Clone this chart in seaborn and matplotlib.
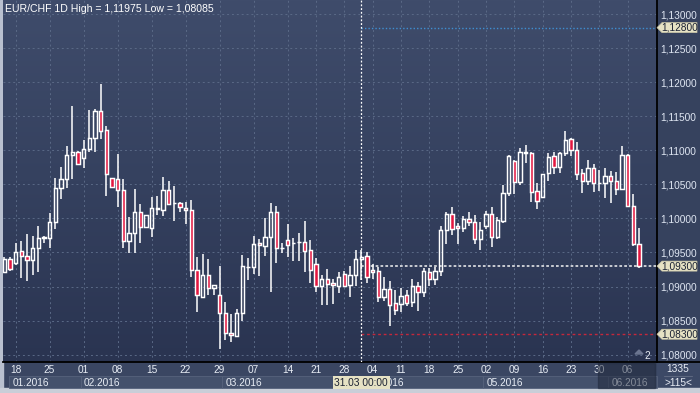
import numpy as np
import pandas as pd
import matplotlib
matplotlib.use("Agg")
import matplotlib.pyplot as plt
import matplotlib.transforms as mtransforms
from matplotlib.patches import Rectangle, Polygon
from matplotlib.colors import LinearSegmentedColormap
import seaborn as sns

# ---------------- data ----------------
sunday_era = pd.date_range("2016-01-15", "2016-03-13")
sunday_era = sunday_era[sunday_era.weekday != 5]          # broker sent Sunday bars until mid-March
weekday_era = pd.bdate_range("2016-03-14", "2016-06-08")
dates = list(sunday_era) + list(weekday_era)

opens = [1.09218, 1.09400, 1.09341, 1.09517, 1.09453, 1.09385, 1.09561, 1.09708, 1.09708, 1.09943,
         1.10442, 1.10574, 1.10926, 1.10975, 1.10882, 1.11014, 1.11176, 1.11576, 1.11298, 1.10589,
         1.10574, 1.10417, 1.09673, 1.09782, 1.10090, 1.09879, 1.09864, 1.10143, 1.10128, 1.10417,
         1.10222, 1.10222, 1.10149, 1.10119, 1.09239, 1.08854, 1.09165, 1.08972, 1.08872, 1.08608,
         1.08314, 1.08279, 1.08608, 1.09282, 1.09291, 1.09639, 1.09600, 1.09727, 1.10090, 1.09570,
         1.09679, 1.09635, 1.09649, 1.09654, 1.09532, 1.09327, 1.09013, 1.09111, 1.09048, 1.09013,
         1.09180, 1.09018, 1.09165, 1.09400, 1.09444, 1.09243, 1.09228, 1.08851, 1.08960, 1.08754,
         1.08744, 1.08872, 1.08769, 1.09004, 1.08916, 1.09209, 1.09107, 1.09233, 1.09826, 1.10060,
         1.09884, 1.09855, 1.09987, 1.09943, 1.09705, 1.09889, 1.10060, 1.09732, 1.09967, 1.10369,
         1.10838, 1.10539, 1.10960, 1.10960, 1.10402, 1.10319, 1.10662, 1.10916, 1.10759, 1.10956,
         1.11166, 1.10999, 1.10662, 1.10554, 1.10736, 1.10515, 1.10515, 1.10623, 1.10549, 1.10427,
         1.10931, 1.10187, 1.09620]
highs = [1.09434, 1.09434, 1.09644, 1.09669, 1.09771, 1.09738, 1.09893, 1.09742, 1.10075, 1.10593,
         1.10750, 1.11063, 1.11650, 1.10990, 1.11151, 1.11591, 1.11606, 1.11975, 1.11356, 1.10593,
         1.10945, 1.10574, 1.10025, 1.10432, 1.10212, 1.10050, 1.10319, 1.10329, 1.10603, 1.10554,
         1.10476, 1.10245, 1.10241, 1.10270, 1.09434, 1.09478, 1.09404, 1.09018, 1.09302, 1.08773,
         1.08597, 1.08666, 1.09463, 1.09415, 1.09742, 1.09702, 1.10006, 1.10222, 1.10182, 1.09644,
         1.09918, 1.09713, 1.09790, 1.09962, 1.09683, 1.09415, 1.09170, 1.09253, 1.09111, 1.09218,
         1.09233, 1.09302, 1.09537, 1.09537, 1.09512, 1.09331, 1.09282, 1.09136, 1.09086, 1.08950,
         1.08974, 1.08950, 1.09111, 1.09071, 1.09268, 1.09268, 1.09282, 1.09889, 1.10094, 1.10163,
         1.09928, 1.10040, 1.10090, 1.10050, 1.09947, 1.10116, 1.10163, 1.10025, 1.10490, 1.10931,
         1.10857, 1.11029, 1.11078, 1.10975, 1.10515, 1.10652, 1.10956, 1.10975, 1.10975, 1.11283,
         1.11180, 1.11126, 1.10721, 1.10857, 1.10799, 1.10711, 1.10736, 1.10696, 1.10686, 1.11063,
         1.10950, 1.10358, 1.09859]
lows = [1.09199, 1.09228, 1.09312, 1.09130, 1.09086, 1.09174, 1.09218, 1.09644, 1.09570, 1.09849,
        1.10285, 1.10451, 1.10574, 1.10784, 1.10744, 1.10975, 1.10970, 1.11170, 1.10333, 1.10451,
        1.10172, 1.09570, 1.09497, 1.09488, 1.09644, 1.09864, 1.09732, 1.10046, 1.10040, 1.10197,
        1.09967, 1.10099, 1.09923, 1.09145, 1.08631, 1.08839, 1.08872, 1.08876, 1.08085, 1.08220,
        1.08186, 1.08264, 1.08499, 1.09096, 1.09180, 1.09159, 1.09453, 1.08925, 1.09341, 1.09497,
        1.09438, 1.09380, 1.09380, 1.09209, 1.09048, 1.08925, 1.08729, 1.08729, 1.08740, 1.08901,
        1.09008, 1.08851, 1.09008, 1.09096, 1.09057, 1.09111, 1.08778, 1.08792, 1.08425, 1.08583,
        1.08631, 1.08715, 1.08704, 1.08646, 1.08851, 1.09008, 1.09023, 1.09155, 1.09625, 1.09761,
        1.09625, 1.09805, 1.09889, 1.09629, 1.09537, 1.09845, 1.09585, 1.09702, 1.09940, 1.10329,
        1.10358, 1.10490, 1.10809, 1.10245, 1.10143, 1.10310, 1.10554, 1.10647, 1.10671, 1.10916,
        1.10916, 1.10564, 1.10377, 1.10490, 1.10392, 1.10407, 1.10295, 1.10231, 1.10344, 1.10417,
        1.10172, 1.09600, 1.09272]
closes = [1.09400, 1.09253, 1.09503, 1.09453, 1.09385, 1.09561, 1.09708, 1.09727, 1.09943, 1.10442,
          1.10574, 1.10926, 1.10975, 1.10794, 1.11014, 1.11176, 1.11576, 1.11283, 1.10647, 1.10457,
          1.10417, 1.09673, 1.09782, 1.10090, 1.09879, 1.10046, 1.10153, 1.10153, 1.10417, 1.10216,
          1.10220, 1.10172, 1.10119, 1.09239, 1.08869, 1.09165, 1.08972, 1.09018, 1.08608, 1.08314,
          1.08285, 1.08608, 1.09297, 1.09291, 1.09620, 1.09610, 1.09727, 1.10090, 1.09570, 1.09572,
          1.09614, 1.09639, 1.09654, 1.09517, 1.09239, 1.09013, 1.09111, 1.09033, 1.09018, 1.09136,
          1.09013, 1.09165, 1.09400, 1.09429, 1.09145, 1.09209, 1.08851, 1.08960, 1.08734, 1.08652,
          1.08857, 1.08754, 1.09004, 1.08916, 1.09224, 1.09107, 1.09224, 1.09826, 1.10060, 1.09840,
          1.09855, 1.09987, 1.09943, 1.09702, 1.09826, 1.10060, 1.09732, 1.09972, 1.10369, 1.10916,
          1.10539, 1.10970, 1.10969, 1.10392, 1.10251, 1.10647, 1.10897, 1.10759, 1.10956, 1.11151,
          1.11004, 1.10647, 1.10554, 1.10736, 1.10515, 1.10520, 1.10623, 1.10549, 1.10427, 1.10931,
          1.10187, 1.09620, 1.09300]

symbol = "EUR/CHF"
timeframe = "1D"
range_high = 1.11975
range_low = 1.08085
price_ticks = [1.080, 1.085, 1.090, 1.095, 1.100, 1.105, 1.110, 1.115, 1.120, 1.125, 1.130]
level_blue = 1.128
level_last = 1.093
level_red = 1.083
cursor_date = "2016-03-31"
cursor_label = "31.03 00:00"
info_top = "1335"
info_bottom = ">115<"
corner_count = "2"

# ---------------- style ----------------
sns.set_theme(style="dark")
plt.rcParams["font.family"] = ["Liberation Sans", "DejaVu Sans"]

W, H = 700, 393
fig = plt.figure(figsize=(W / 100, H / 100), dpi=100)
fig.patch.set_facecolor("#37435f")

def fx(px):
    return px / W

def fy(py):
    return 1 - py / H

# background decoration (pixel space)
bg = fig.add_axes([0, 0, 1, 1], zorder=-5)
bg.set_xlim(0, W); bg.set_ylim(H, 0); bg.axis("off")
bg.add_patch(Rectangle((0, 0), W, H, color="#37435f"))
bg.add_patch(Rectangle((3, 362), 654, 26, color="#3a4662"))
bg.add_patch(Rectangle((657, 0), 43, 388, color="#36425e"))
bg.add_patch(Rectangle((657, 362), 43, 26, color="#3c4966"))
bg.add_patch(Rectangle((0, 0), 3, H, color="#b9c0cf"))
bg.add_patch(Rectangle((0, 388), W, 5, color="#c9ced8"))
bg.plot([657, 700], [362, 362], color="black", lw=1.3)

# main price axes
ax = fig.add_axes([fx(3), fy(362), fx(657) - fx(3), fy(0) - fy(362)])
x = np.arange(1, len(dates) + 1)
xlim = (0.79, 116.19)
ylim = (1.078928, 1.132055)

grad = np.linspace(0, 1, 256).reshape(-1, 1)
cmap = LinearSegmentedColormap.from_list("bgc", ["#3f4c6b", "#35415f", "#2a3451"])
ax.imshow(grad, extent=[xlim[0], xlim[1], ylim[0], ylim[1]], aspect="auto",
          cmap=cmap, origin="upper", zorder=0)
ax.set_xlim(*xlim)
ax.set_ylim(*ylim)

ax.set_axisbelow(True)
ax.grid(True, color="#5a6986", ls=(0, (2, 3)), lw=0.7)

red = "#e3163f"
body_w = 0.58
for xi, o, h, l, c in zip(x, opens, highs, lows, closes):
    top, bot = max(o, c), min(o, c)
    ax.vlines(xi, top, h, color="white", lw=1.1, zorder=3)
    ax.vlines(xi, l, bot, color="white", lw=1.1, zorder=3)
    face = red if c < o else "none"
    ax.add_patch(Rectangle((xi - body_w / 2, bot), body_w, max(top - bot, 1e-6),
                           facecolor=face, edgecolor="white", lw=1.05, zorder=4))

# cursor and levels
cursor_x = x[[d.strftime("%Y-%m-%d") for d in dates].index(cursor_date)]
ax.axvline(cursor_x, color="white", ls=(0, (1.5, 1.5)), lw=0.9, zorder=5)
ax.hlines(level_blue, cursor_x, xlim[1], color="#3f8fd2", ls=(0, (1, 1.5)), lw=1.0, zorder=2)
ax.hlines(level_last, cursor_x, xlim[1], color="#d6d8dc", ls=(0, (1.5, 1.2)), lw=1.3, zorder=2)
ax.hlines(level_red, cursor_x, xlim[1], color="#c4283c", ls=(0, (2, 2)), lw=1.0, zorder=2)

# axes / ticks
for s in ["top", "left"]:
    ax.spines[s].set_visible(False)
ax.spines["right"].set_color("black"); ax.spines["right"].set_linewidth(1.3)
ax.spines["bottom"].set_color("black"); ax.spines["bottom"].set_linewidth(1.3)

ax.yaxis.tick_right()
ax.set_yticks(price_ticks)
ax.set_yticklabels([f"{v:.5f}".replace(".", ",") for v in price_ticks])
ax.tick_params(axis="y", length=0, pad=2, labelsize=7.3, labelcolor="#dfe6f2")

mondays = [(xi, d) for xi, d in zip(x, dates) if d.weekday() == 0]
ax.set_xticks([m[0] for m in mondays])
ax.set_xticklabels([m[1].strftime("%d") for m in mondays])
ax.tick_params(axis="x", length=0, pad=2.5, labelsize=7.3, labelcolor="#e8edf5")

# month boxes under the day labels
trans_m = mtransforms.blended_transform_factory(ax.transData, fig.transFigure)
month_starts = []
prev = None
for xi, d in zip(x, dates):
    if d.month != prev:
        month_starts.append((xi, d))
        prev = d.month
half = 0.5
for i, (xi, d) in enumerate(month_starts):
    left = max(xi - half, 1.9)
    right = month_starts[i + 1][0] - half if i + 1 < len(month_starts) else xlim[1]
    ax.add_patch(Rectangle((left, fy(388)), right - left, fy(376) - fy(388), transform=trans_m,
                           facecolor="#44516c", edgecolor="#56627c", lw=0.6, clip_on=False, zorder=1))
    ax.text(left + 0.6, fy(382.5), d.strftime("%m.%Y"), transform=trans_m, ha="left", va="center",
            fontsize=7.3, color="#e8edf5", clip_on=False, zorder=2)

# cursor date tag
ax.text(cursor_x, fy(382.5), cursor_label, transform=trans_m, ha="center", va="center",
        fontsize=7.3, color="#1b2233", clip_on=False, zorder=6,
        bbox=dict(boxstyle="square,pad=0.15", facecolor="#e6e2c4", edgecolor="none"))

# price tags on the right scale
dpp = (ylim[1] - ylim[0]) / 362.0
trans_p = mtransforms.blended_transform_factory(ax.transAxes, ax.transData)
axw = 654.0
for lvl in [level_blue, level_last, level_red]:
    pts = [(1.0, lvl), (1.0 + 5 / axw, lvl + 5 * dpp), (1.0 + 40 / axw, lvl + 5 * dpp),
           (1.0 + 40 / axw, lvl - 5 * dpp), (1.0 + 5 / axw, lvl - 5 * dpp)]
    ax.add_patch(Polygon(pts, closed=True, transform=trans_p, facecolor="#e6e2c4",
                         edgecolor="#c9c5a8", lw=0.5, clip_on=False, zorder=6))
    ax.text(1.0 + 4 / axw, lvl, f"{lvl:.5f}".replace(".", ","), transform=trans_p,
            ha="left", va="center", fontsize=7.3, color="#1b2233", clip_on=False, zorder=7)

# foreground overlay (pixel space)
fg = fig.add_axes([0, 0, 1, 1], zorder=10)
fg.set_xlim(0, W); fg.set_ylim(H, 0); fg.axis("off")
fg.patch.set_alpha(0)
header = f"{symbol} {timeframe} High = {range_high:.5f}".replace(".", ",") + \
         f" Low = {range_low:.5f}".replace(".", ",")
fg.text(5, 8.5, header, ha="left", va="center", fontsize=7.6, color="white")
fg.add_patch(Rectangle((598, 363), 57, 25, color="#1f273a", alpha=0.5))
fg.text(678, 369.5, info_top, ha="center", va="center", fontsize=7.3, color="#e8edf5")
fg.plot([664, 692], [376, 376], color="#5d6880", lw=0.8)
fg.text(678, 382.5, info_bottom, ha="center", va="center", fontsize=7.3, color="#e8edf5")
fg.add_patch(Polygon([(635, 354), (639, 350), (643, 354)], closed=True, color="#6b7590"))
fg.text(647, 356, corner_count, ha="center", va="center", fontsize=7.3, color="#e8edf5")

fig.savefig("out.png", dpi=100, facecolor=fig.get_facecolor())
